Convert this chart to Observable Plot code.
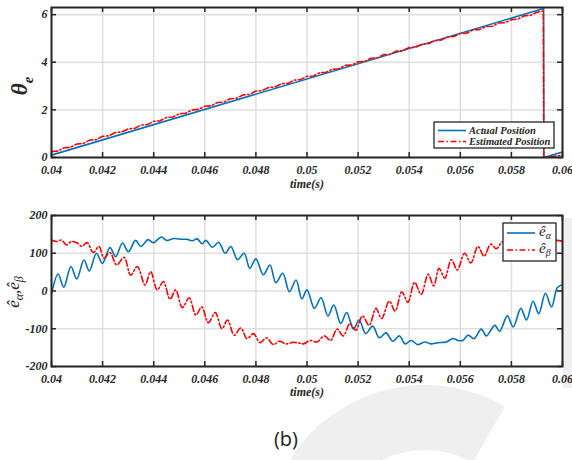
<!DOCTYPE html>
<html><head><meta charset="utf-8">
<script src="https://cdn.jsdelivr.net/npm/d3@7"></script>
<script src="https://cdn.jsdelivr.net/npm/@observablehq/plot@0.6"></script>
<style>
html,body{margin:0;padding:0;background:#fff}
body{width:572px;height:460px;position:relative;overflow:hidden}
#wm{position:absolute;left:0;top:0}
#top,#bot{position:absolute;left:0}
#top{top:0}
#bot{top:200px}
#cap{position:absolute;left:0;width:572px;top:425px;text-align:center;font:20px "Open Sans";color:#222;line-height:28px}
</style></head><body>
<svg id="wm" width="572" height="460"><path d="M505,406.4 A160,160 0 0,0 289.5,460 L 382.6,460 A95,95 0 0,1 472.5,462.7 Z" fill="#efefef"/><rect x="563" y="218" width="9" height="170" fill="#efefef"/></svg>
<div id="top"></div><div id="bot"></div><div id="cap">(b)</div>
<script>
// ---- data ----
const xTicks = [0.04,0.042,0.044,0.046,0.048,0.05,0.052,0.054,0.056,0.058,0.06];
const xTickLabels = ["0.04","0.042","0.044","0.046","0.048","0.05","0.052","0.054","0.056","0.058","0.06"];
const thetaTicks = [0,2,4,6];
const thetaTickLabels = ["0","2","4","6"];
const eTicks = [-200,-100,0,100,200];
const eTickLabels = ["-200","-100","0","100","200"];
const xLabel = "time(s)";
const topLegend = ["Actual Position","Estimated Position"];
const botLegend = ["α","β"];

const actualT = [0.04,0.05926,0.05927,0.06];
const actualV = [0.10,6.26,0.0,0.23];

const estT = [0.04,0.04025,0.0405,0.04075,0.041,0.04125,0.0415,0.04175,0.042,0.04225,
0.0425,0.04275,0.043,0.04325,0.0435,0.04375,0.044,0.04425,0.0445,0.04475,
0.045,0.04525,0.0455,0.04575,0.046,0.04625,0.0465,0.04675,0.047,0.04725,
0.0475,0.04775,0.048,0.04825,0.0485,0.04875,0.049,0.04925,0.0495,0.04975,
0.05,0.05025,0.0505,0.05075,0.051,0.05125,0.0515,0.05175,0.052,0.05225,
0.0525,0.05275,0.053,0.05325,0.0535,0.05375,0.054,0.05425,0.0545,0.05475,
0.055,0.05525,0.0555,0.05575,0.056,0.05625,0.0565,0.05675,0.057,0.05725,
0.0575,0.05775,0.058,0.05825,0.0585,0.05875,0.059,0.05925,0.05927,0.0595,0.05975,0.06];
const estV = [0.25,0.27,0.41,0.43,0.57,0.59,0.73,0.75,0.89,0.91,
1.05,1.07,1.20,1.22,1.36,1.38,1.52,1.54,1.68,1.70,
1.84,1.86,2.00,2.02,2.15,2.17,2.31,2.33,2.47,2.49,
2.63,2.65,2.79,2.81,2.94,2.96,3.10,3.11,3.25,3.27,
3.41,3.42,3.56,3.58,3.71,3.73,3.87,3.88,4.02,4.03,
4.17,4.18,4.32,4.33,4.47,4.48,4.62,4.63,4.76,4.78,
4.91,4.93,5.06,5.08,5.21,5.22,5.36,5.37,5.50,5.51,
5.65,5.66,5.79,5.81,5.95,5.97,6.10,6.15,0.0,0.03,0.06,0.10];

const alphaT = [0.04,0.04026,0.04048,0.04076,0.04099,0.04127,0.04148,0.04176,0.04199,0.04229,
0.04251,0.04278,0.04301,0.04329,0.0435,0.04378,0.04398,0.0443,0.0445,0.0448,
0.0451,0.0453,0.0455,0.0457,0.0459,0.04604,0.0463,0.04654,0.0468,0.04702,
0.04728,0.04754,0.04776,0.048,0.04829,0.04855,0.04878,0.04905,0.04931,0.04957,
0.0498,0.05,0.05029,0.05055,0.05082,0.05105,0.05132,0.05155,0.05182,0.05204,
0.0523,0.05257,0.05283,0.05309,0.05336,0.05362,0.05384,0.05408,0.05434,0.05461,
0.05484,0.05512,0.05545,0.05571,0.05591,0.0561,0.0563,0.05654,0.05682,0.05702,
0.05735,0.05754,0.05784,0.05807,0.05837,0.05859,0.05885,0.05907,0.05933,0.05957,
0.0598,0.06];
const alphaV = [-8,45,10,65,32,82,53,100,73,115,
91,127,104,134,118,136,128,143,134,139,
137,137,133,138,125,134,116,129,100,118,
83,100,60,85,43,69,22,47,-2,29,
-21,3,-46,-18,-66,-37,-86,-57,-101,-77,
-113,-93,-124,-111,-133,-119,-140,-131,-142,-135,
-140,-137,-135,-126,-131,-131,-117,-126,-101,-119,
-91,-107,-66,-95,-46,-77,-27,-60,-6,-42,
9,17];

const betaT = [0.04,0.0402,0.04039,0.04059,0.04078,0.04101,0.04118,0.0414,0.04163,0.04186,
0.04205,0.04229,0.04255,0.04284,0.0431,0.04336,0.04366,0.04388,0.04414,0.04438,
0.04464,0.04486,0.04512,0.04539,0.04565,0.04588,0.04614,0.04641,0.04667,0.04689,
0.04715,0.04741,0.04765,0.04791,0.04816,0.04842,0.04868,0.04892,0.04918,0.04944,
0.0497,0.04987,0.05013,0.05039,0.05068,0.05092,0.05118,0.05142,0.05168,0.05191,
0.05217,0.05243,0.0527,0.05292,0.05322,0.05345,0.05371,0.05395,0.05421,0.05447,
0.05474,0.05496,0.05517,0.05539,0.05565,0.05588,0.05617,0.05641,0.05669,0.05693,
0.05719,0.05741,0.05765,0.0579,0.05815,0.0584,0.05865,0.0589,0.05915,0.0594,
0.05965,0.06];
const betaV = [135,131,135,122,131,127,118,128,102,118,
87,102,69,89,42,65,16,51,3,25,
-22,3,-44,-18,-64,-42,-84,-57,-100,-77,
-117,-98,-126,-113,-137,-124,-142,-133,-140,-136,
-138,-140,-131,-135,-119,-131,-101,-119,-86,-104,
-66,-91,-46,-73,-27,-53,-2,-30,23,-9,
44,14,60,34,83,56,100,74,118,92,
124,112,130,118,132,124,134,126,135,128,
134,132];

// ---- helpers ----
const BLUE = "#0072BD", RED = "#FF0000", INK = "#262626", GRID = "#dfdfdf";
const DASH = "6,2.5,1.5,2.5";
const rows = (T, V) => T.map((t, i) => ({t, v: V[i]}));
const font = {fontFamily: "'Liberation Serif', serif", fontSize: "12px", fontWeight: "bold", fontStyle: "italic", color: INK, background: "transparent", overflow: "visible"};

function frameMarks(yTicks) {
  return [
    Plot.frame({fill: "white", stroke: null}),
    Plot.ruleX(xTicks, {x: d => d, stroke: GRID, strokeWidth: 1.5}),
    Plot.ruleY(yTicks, {y: d => d, stroke: GRID, strokeWidth: 1.5}),
  ];
}
function tickMarks(yTicks, yLabels, W, H, labDy) {
  return [
    Plot.ruleX(xTicks, {x: d => d, insetTop: H - 5, stroke: INK, strokeWidth: 1.5}),
    Plot.ruleX(xTicks, {x: d => d, insetBottom: H - 5, stroke: INK, strokeWidth: 1.5}),
    Plot.ruleY(yTicks, {y: d => d, insetRight: W - 5, stroke: INK, strokeWidth: 1.5}),
    Plot.ruleY(yTicks, {y: d => d, insetLeft: W - 5, stroke: INK, strokeWidth: 1.5}),
    Plot.frame({stroke: INK, strokeWidth: 2}),
    Plot.text(xTicks, {x: d => d, frameAnchor: "bottom", dy: 8, lineAnchor: "top", text: (d, i) => xTickLabels[i], fill: INK}),
    Plot.text(yTicks, {y: d => d, frameAnchor: "left", dx: -4, textAnchor: "end", text: (d, i) => yLabels[i], fill: INK}),
    Plot.text([xLabel], {frameAnchor: "bottom", dy: labDy, text: d => d, fill: INK})
  ];
}

// ---- top chart ----
const W = 572 - 51 - 10;
const topPlot = Plot.plot({
  width: 572, height: 195,
  marginLeft: 51, marginRight: 10, marginTop: 7, marginBottom: 38,
  style: font,
  x: {domain: [0.04, 0.06], axis: null},
  y: {domain: [0, 6.3], axis: null},
  marks: [
    ...frameMarks(thetaTicks),
    Plot.line(rows(actualT, actualV), {x: "t", y: "v", stroke: BLUE, strokeWidth: 1.6, clip: true}),
    Plot.line(rows(estT, estV), {x: "t", y: "v", stroke: RED, strokeWidth: 1.6, strokeDasharray: DASH, clip: true}),
    ...tickMarks(thetaTicks, thetaTickLabels, W, 150, 30)
  ]
});
document.getElementById("top").appendChild(topPlot);
{
  const s = d3.select(topPlot);
  const yl = s.append("text").attr("transform", "translate(27,86) rotate(-90)")
    .attr("text-anchor", "middle").attr("fill", INK)
    .style("font-family", "'Liberation Serif', serif").style("font-weight", "bold").style("font-style", "italic");
  yl.append("tspan").style("font-size", "23px").text("θ");
  yl.append("tspan").style("font-size", "15px").attr("dy", 6).text("e");
  const g = s.append("g").attr("text-anchor", "start");
  g.append("rect").attr("x", 434).attr("y", 122).attr("width", 120).attr("height", 26)
    .attr("fill", "white").attr("stroke", INK).attr("stroke-width", 1.3);
  const ys = [130.5, 141.5], cols = [BLUE, RED], dashes = [null, DASH];
  topLegend.forEach((lab, i) => {
    g.append("line").attr("x1", 438).attr("x2", 466).attr("y1", ys[i]).attr("y2", ys[i])
      .attr("stroke", cols[i]).attr("stroke-width", 1.6).attr("stroke-dasharray", dashes[i]);
    g.append("text").attr("x", 469).attr("y", ys[i] + 3.8).attr("fill", INK).attr("text-anchor", "start")
      .style("font-size", "10.5px").text(lab);
  });
}

// ---- bottom chart ----
const botPlot = Plot.plot({
  width: 572, height: 210,
  marginLeft: 51, marginRight: 10, marginTop: 15, marginBottom: 44,
  style: font,
  x: {domain: [0.04, 0.06], axis: null},
  y: {domain: [-200, 200], axis: null},
  marks: [
    ...frameMarks(eTicks),
    Plot.line(rows(alphaT, alphaV), {x: "t", y: "v", stroke: BLUE, strokeWidth: 1.6, curve: "catmull-rom", clip: true}),
    Plot.line(rows(betaT, betaV), {x: "t", y: "v", stroke: RED, strokeWidth: 1.6, strokeDasharray: DASH, curve: "catmull-rom", clip: true}),
    ...tickMarks(eTicks, eTickLabels, W, 151, 29)
  ]
});
document.getElementById("bot").appendChild(botPlot);
{
  const s = d3.select(botPlot);
  const yl = s.append("text").attr("transform", "translate(19,92) rotate(-90)")
    .attr("text-anchor", "middle").attr("fill", INK)
    .style("font-family", "'Liberation Serif', serif").style("font-weight", "normal").style("font-style", "italic").style("font-size", "17px");
  yl.append("tspan").text("ê");
  yl.append("tspan").attr("dy", 4).style("font-size", "12px").text(botLegend[0]);
  yl.append("tspan").attr("dy", -4).text(",ê");
  yl.append("tspan").attr("dy", 4).style("font-size", "12px").text(botLegend[1]);
  const g = s.append("g").attr("text-anchor", "start");
  g.append("rect").attr("x", 503).attr("y", 23).attr("width", 53).attr("height", 38)
    .attr("fill", "white").attr("stroke", INK).attr("stroke-width", 1.3);
  const ys = [33, 50], cols = [BLUE, RED], dashes = [null, DASH];
  botLegend.forEach((lab, i) => {
    g.append("line").attr("x1", 507).attr("x2", 535).attr("y1", ys[i]).attr("y2", ys[i])
      .attr("stroke", cols[i]).attr("stroke-width", 1.6).attr("stroke-dasharray", dashes[i]);
    const t = g.append("text").attr("x", 539).attr("y", ys[i] + 3).attr("fill", INK).attr("text-anchor", "start")
      .style("font-weight", "normal").style("font-size", "15px");
    t.append("tspan").text("ê");
    t.append("tspan").attr("dy", 3).style("font-size", "10px").text(lab);
  });
}
</script>
</body></html>
